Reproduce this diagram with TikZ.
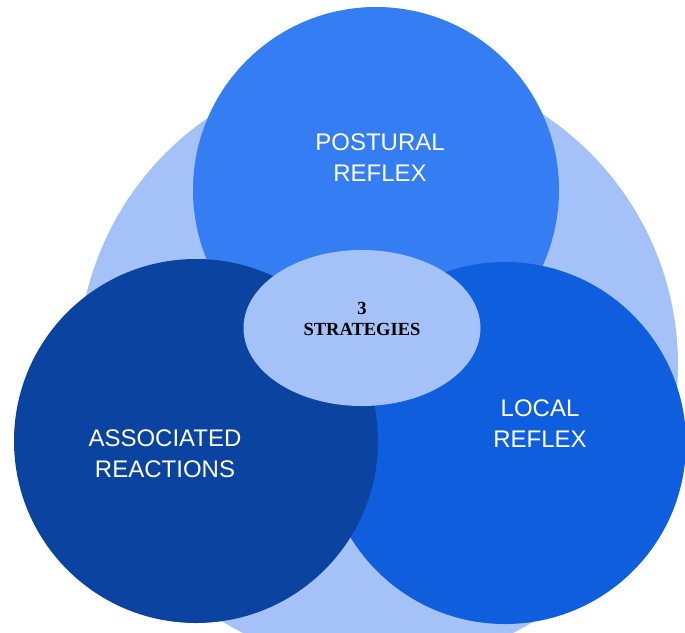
\documentclass[tikz,border=0pt]{standalone}
\usepackage{fontspec}
\setmainfont{Liberation Sans}
\newfontfamily\hubfont{Liberation Serif}
\usetikzlibrary{shapes.geometric}
\definecolor{outerblue}{HTML}{A4C2F7}
\definecolor{posturalblue}{HTML}{357DF2}
\definecolor{localblue}{HTML}{0E5EDE}
\definecolor{assocblue}{HTML}{0B44A0}
\begin{document}
\begin{tikzpicture}[x=1pt,y=-1pt]
    \begin{scope}
        \tikzset{venn circle/.style={circle, inner sep=0pt, minimum size=#1},
                 venn label/.style={text=white, align=center, font=\fontsize{24}{31}\selectfont}}
        \useasboundingbox (0,0) rectangle (685,632);
        \clip (0,0) rectangle (685,632);
        % Draw the outer set and the three strategies
        \node [venn circle=600pt, fill=outerblue] (O) at (378,365) {};
        \node [venn circle=366pt, fill=posturalblue] (P) at (376,190) {};
        \node [venn circle=362pt, fill=localblue] (L) at (505,443) {};
        \node [venn circle=364pt, fill=assocblue] (A) at (196,441) {};
        \node [ellipse, inner sep=0pt, minimum width=237pt, minimum height=156pt, fill=outerblue] (H) at (362,328) {};

        % Label each region
        \node [venn label] (Ptext) at (380,158) {POSTURAL\\REFLEX};
        \node [venn label] (Ltext) at (540,424) {LOCAL\\REFLEX};
        \node [venn label] (Atext) at (165,454) {ASSOCIATED\\REACTIONS};
        \node [align=center, font=\hubfont\bfseries\fontsize{18.5}{21}\selectfont] (Htext) at (362,319) {3\\STRATEGIES}; % hub
    \end{scope}
\end{tikzpicture}
\end{document}
